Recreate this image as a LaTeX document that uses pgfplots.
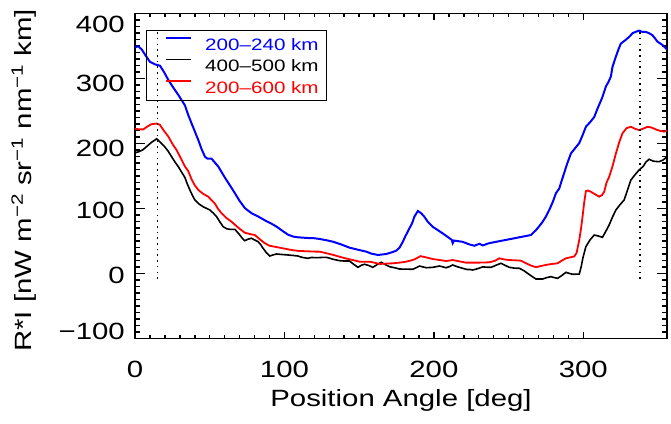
\documentclass[border=0pt]{standalone}
\usepackage{fontspec}
\setmainfont[FakeStretch=1.25]{Liberation Sans}
\usepackage{pgfplots}
\pgfplotsset{compat=1.18}
\newcommand{\yl}[2]{\raisebox{#1}[0pt][0pt]{#2}}
\begin{document}
\begin{tikzpicture}
\begin{axis}[
  scale only axis, width=532pt, height=325pt,
  xmin=0, xmax=356, ymin=-100, ymax=400,
  xtick={0,100,200,300}, xticklabels={0,100,200,300},
  ytick={-100,0,100,200,300,400},
  yticklabels={\yl{-0.4pt}{−100},\yl{-9.9pt}{0},\yl{-9.9pt}{100},\yl{-12.4pt}{200},\yl{-12.4pt}{300},\yl{-18.4pt}{400}},
  minor x tick num=9, minor y tick num=9,
  tick align=inside,
  axis line style={line width=1.6pt, black},
  tick style={line width=1.5pt, black},
  major tick length=10pt, minor tick length=5pt,
  xtick style={/pgfplots/major tick length=6.5pt, /pgfplots/minor tick length=3.5pt},
  xticklabel style={font=\fontsize{23.5}{24}\selectfont, anchor=base, yshift=-39.3pt, inner sep=0pt},
  yticklabel style={font=\fontsize{23.5}{24}\selectfont, anchor=east, xshift=-10pt, inner sep=0pt},
  xlabel={Position Angle [deg]},
  xlabel style={at={(rel axis cs:0.5,-0.2092)}, anchor=base, inner sep=0pt, font=\fontsize{23.5}{24}\selectfont},
  ylabel={R*I [nW m\textsuperscript{−2} sr\textsuperscript{−1} nm\textsuperscript{−1} km]},
  ylabel style={at={(rel axis cs:-0.1936,0.487)}, anchor=base, inner sep=0pt, font=\fontsize{23.5}{24}\selectfont},
  legend style={at={(rel axis cs:0,1)}, anchor=north west, xshift=10.7pt, yshift=-16.3pt,
    draw=black, fill=none, line width=1pt, inner xsep=8pt, inner ysep=2.75pt, column sep=13pt, row sep=0pt,
    font=\fontsize{16.5}{18}\selectfont,
    nodes={inner sep=0pt, text height=17.1pt, text depth=4.4pt}},
  legend cell align=left,
  legend image code/.code={\path (0pt,0pt); \draw[#1] (11pt,5.85pt) -- (36pt,5.85pt);},
]
\coordinate (SW) at (rel axis cs:0,0);
\coordinate (NE) at (rel axis cs:1,1);
\addplot[blue, line width=2pt] coordinates {
(0,348) (2,350) (4.5,345) (7,336) (10,326) (13.4,322) (16.7,320) (19.5,310) (22.3,298) (26,285) (29,275) (33.4,259) (35.5,245) (37.9,231) (40,219) (42.3,206) (44.5,192) (46.8,180) (48.5,177) (51.2,177) (55.7,165) (60.1,148) (63.5,136) (66.8,124) (70,112) (73.5,101) (78,93) (82.4,88) (87,82) (91.3,77) (95,72) (98,67) (102.4,60) (106,57) (109,56) (115,55) (120.2,54.5) (123.6,53.4) (128,51.5) (132.5,49.2) (138,45) (143.6,40) (149,37) (154.8,33.9) (158,31) (162.5,28.8) (168.1,30.3) (172,33) (174.8,35.4) (177,40) (179.2,49) (181,58) (183.7,70) (185.5,78) (187,88) (189.3,96.5) (191.5,93) (193.5,88) (195.9,80) (199.3,72) (202,68) (205.9,62) (209,57) (212,52) (212.6,47) (213.5,51) (219.3,49) (223.8,45) (227.1,43) (230.5,46) (232.7,43.5) (237.1,47) (241.6,49) (246,51) (250.5,53) (255,55) (259.4,57) (265,59.5) (268.3,67) (270.5,73) (272.8,80) (275,88) (277.2,98) (279.5,110) (281.7,124) (283.9,131) (285.5,143) (287.2,155) (289,168) (290.6,178) (291.7,185) (294.5,193) (297.3,201) (299.5,213) (301.7,226) (304.5,233) (307.3,241) (309.5,254) (312.5,270) (315.1,288) (316.8,295) (318.4,303) (319.5,318) (321.8,334) (323.5,345) (325.1,354) (328.5,360) (331,365) (332.9,370) (335,372) (337.3,374) (339.5,372) (341.8,372) (344,370) (346.2,367) (348,362) (349.6,357) (352.9,352) (356,345)
};
\addlegendentry{\textcolor{blue}{200–240 km}}
\addplot[black, line width=1.6pt] coordinates {
(0,186) (3,188) (5.5,191) (8,196) (11,202) (14.5,207.5) (17,202) (20,195) (22.3,188) (24.5,180) (26.7,172) (29,164.6) (31,157) (33.4,148) (35,138) (36.7,129) (38.5,120) (40.1,113.4) (43,107) (45.6,103) (50.1,98) (52.5,93) (54.6,87.7) (57,79) (59,72.3) (61.5,69) (63.5,68.3) (66.8,68.3) (68.5,64) (70.1,59.5) (72,54) (73.5,50.8) (75.5,53) (77.9,54.5) (80,52) (82.4,49.2) (84,45) (85.7,39) (88,32) (90.2,27.2) (92.5,29) (94.7,30.3) (98.5,29.5) (102.4,28.8) (106,28) (109,27.2) (112,25) (115.8,23.7) (118,25) (121.4,24.6) (125,25) (128,25.2) (130,24) (132.5,22.2) (137,20) (140,19.5) (143.6,19.5) (146,15) (149.2,9.8) (151.5,13) (153.6,14.5) (156.5,12.5) (159.2,9.8) (162,14) (164.8,17.5) (167.5,14) (170.3,10.8) (174,9) (177,7.2) (181,7) (185.9,6.8) (188,9) (190.4,11.8) (192.5,10.5) (194.9,9.2) (199.3,9.8) (203.7,11.8) (206,10.5) (208.2,9.2) (210.5,11) (212.6,13.4) (216,10.5) (219.3,8.3) (222,6.5) (224,6.5) (226,5.7) (229,7.5) (232.7,10.5) (235.5,10) (238.3,9.8) (241.5,13) (244.9,16) (247.5,13) (250.5,9.8) (254,8.5) (257.2,8.3) (260,5) (262.7,0.6) (265.5,-4) (268.3,-8.2) (272.8,-8.2) (275.5,-6) (278.4,-4.6) (280.5,-6) (282.8,-7.1) (285.5,-3) (288.4,2.1) (290.5,0.5) (292.8,-0.9) (297.3,-0.5) (298.5,10) (299.8,25) (301.7,41.5) (304.5,52) (307.3,59.5) (310,58) (312.8,56) (315,65) (317.3,75) (319.5,87) (321.8,98) (324.5,106) (327.3,113.4) (329.5,128) (331.8,144) (334.5,152) (337.3,159.5) (340,165) (342,172) (344,176) (347,173) (350.7,172.3) (353.5,175) (356,180)
};
\addlegendentry{\textcolor{black}{400–500 km}}
\addplot[red, line width=1.8pt] coordinates {
(0,223) (3,222) (5.5,222) (8,226) (11,230) (14.5,231) (16.7,229) (19,221) (22.3,211) (25.5,198) (27.9,190) (29,185) (31,176) (33.4,165) (35.6,158) (37.9,145) (40,136) (42.3,129) (45.5,123) (49,118.5) (53.4,108) (55.5,100) (57.9,93) (61,86) (64.6,80) (69,71) (73.5,63) (77,61) (80.2,59.5) (83.5,53) (86.8,47) (90,43) (93.5,41.5) (98,39.5) (102.4,37.5) (106,36) (110,35) (115,34.5) (120.2,34) (123.6,33.9) (128,31.5) (132.5,29) (137,26) (141,23.5) (145.8,21) (150.3,18.5) (157,18.5) (160,17) (163.7,15) (168,15.5) (172.6,16) (177,17) (181.5,18.5) (185,20.5) (187,22) (191,27) (195,25) (199.3,22.5) (204,21) (208.2,19.5) (212.6,21) (217,19) (221.5,17) (230,17) (237.1,17.5) (241,20) (243.8,23.7) (247,22) (250.5,21) (255,20.5) (258.3,20) (261.7,16) (265,12.5) (268.3,10) (272,12) (275,13.5) (279,15) (282.8,16) (285.5,20) (288.4,23.7) (291,25) (293.9,26.5) (295.5,32) (297.3,52) (298.5,70) (299.5,88) (300.5,108) (301.7,127) (303,128) (305.1,126) (308,122) (310.6,118.5) (312.5,121) (314,126) (315.5,140) (317.3,149) (319.5,165) (321.8,185) (324,202) (326.2,216) (329,224) (331.8,226) (334.5,223) (337.3,221) (340,223) (342.9,226) (345.5,225) (348.5,222) (351,220) (354,218.5) (357,221)
};
\addlegendentry{\textcolor{red}{200–600 km}}
\addplot[black, line width=1.6pt, dash pattern=on 1.6pt off 4.1pt, forget plot] coordinates {(15,-8) (15,373)};
\addplot[black, line width=1.6pt, dash pattern=on 1.6pt off 4.1pt, forget plot] coordinates {(338,-8) (338,373)};
\end{axis}
\pgfresetboundingbox
\path[use as bounding box] ([xshift=-135pt,yshift=-85.3pt]SW) rectangle ([xshift=4pt,yshift=13.7pt]NE);
\end{tikzpicture}
\end{document}
